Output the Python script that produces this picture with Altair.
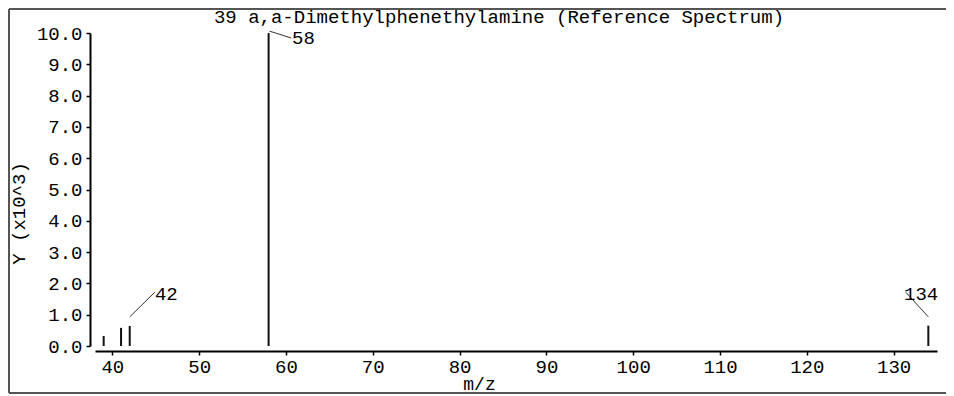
import altair as alt
import pandas as pd

# Peaks (m/z, intensity in x10^3)
mz = [39, 41, 42, 58, 134]
intensity = [0.32, 0.58, 0.64, 10.0, 0.65]

# Annotated peaks: label text, line start, line end / label anchor
ann_label = ["42", "58", "134"]
ann_x1 = [42.0, 58.1, 134.0]
ann_y1 = [0.93, 10.06, 0.93]
ann_x2 = [44.9, 60.6, 131.4]
ann_y2 = [1.72, 9.84, 1.72]
ann_tx = [44.9, 60.7, 131.2]
ann_ty = [1.66, 9.84, 1.66]

x_ticks = [40, 50, 60, 70, 80, 90, 100, 110, 120, 130]
y_ticks = [0, 1, 2, 3, 4, 5, 6, 7, 8, 9, 10]

FONT = "Liberation Mono"

peaks = pd.DataFrame({"mz": mz, "y": intensity, "y0": [0] * len(mz)})
ann = pd.DataFrame({"label": ann_label, "x1": ann_x1, "y1": ann_y1,
                    "x2": ann_x2, "y2": ann_y2, "tx": ann_tx, "ty": ann_ty})

xscale = alt.Scale(domain=[38, 135], nice=False, zero=False)
yscale = alt.Scale(domain=[0, 10], nice=False)

xaxis = alt.Axis(values=x_ticks, title="m/z", grid=False, offset=5,
                 domainWidth=2, domainColor="black", tickColor="black",
                 tickWidth=1.5, tickSize=4, labelPadding=2, labelOverlap=False,
                 titleX=384, titleY=42, titleFontSize=18,
                 titleBaseline="bottom", titleAlign="center")
yaxis = alt.Axis(values=y_ticks, format=".1f", title="Y (x10^3)", grid=False, offset=5,
                 domainWidth=2, domainColor="black", tickColor="black",
                 tickWidth=1.5, tickSize=4, labelPadding=4, labelOverlap=False,
                 titleAngle=270, titleX=-72, titleY=180,
                 titleBaseline="middle", titleAlign="center")

bars = alt.Chart(peaks).mark_rule(color="#111111", strokeWidth=2).encode(
    x=alt.X("mz:Q", scale=xscale, axis=xaxis),
    y=alt.Y("y0:Q", scale=yscale, axis=yaxis),
    y2="y:Q",
)

lines = alt.Chart(ann).mark_rule(color="#333333", strokeWidth=1).encode(
    x=alt.X("x1:Q", scale=xscale, axis=xaxis),
    y=alt.Y("y1:Q", scale=yscale, axis=yaxis),
    x2="x2:Q",
    y2="y2:Q",
)

labels = alt.Chart(ann).mark_text(font=FONT, fontSize=19, align="left",
                                  baseline="middle", color="black").encode(
    x=alt.X("tx:Q", scale=xscale, axis=xaxis),
    y=alt.Y("ty:Q", scale=yscale, axis=yaxis),
    text="label:N",
)

frame_top = alt.Chart(peaks).mark_rule(color="#555555", strokeWidth=2).encode(
    x=alt.value(-86), x2=alt.value(860), y=alt.value(-24)
)
frame_left = alt.Chart(peaks).mark_rule(color="#555555", strokeWidth=2).encode(
    x=alt.value(-86), y=alt.value(-24), y2=alt.value(360)
)
frame_bottom = alt.Chart(peaks).mark_rule(color="#555555", strokeWidth=2).encode(
    x=alt.value(-86), x2=alt.value(860), y=alt.value(360)
)

chart = alt.layer(bars, lines, labels, frame_top, frame_left, frame_bottom).properties(
    width=842,
    height=313,
    title=alt.TitleParams("39 a,a-Dimethylphenethylamine (Reference Spectrum)",
                          font=FONT, fontSize=19, fontWeight="normal",
                          anchor="middle", frame="group", dx=-17, dy=25, offset=6,
                          color="black"),
    autosize=alt.AutoSizeParams(type="none"),
    padding={"left": 87, "top": 25, "right": 9, "bottom": 48},
).configure_view(stroke=None).configure_axis(
    labelFont=FONT, labelFontSize=19, titleFont=FONT, titleFontSize=19,
    titleFontWeight="normal", labelColor="black", titleColor="black",
)

chart.save("out.html", embed_options={"renderer": "svg", "actions": False})
